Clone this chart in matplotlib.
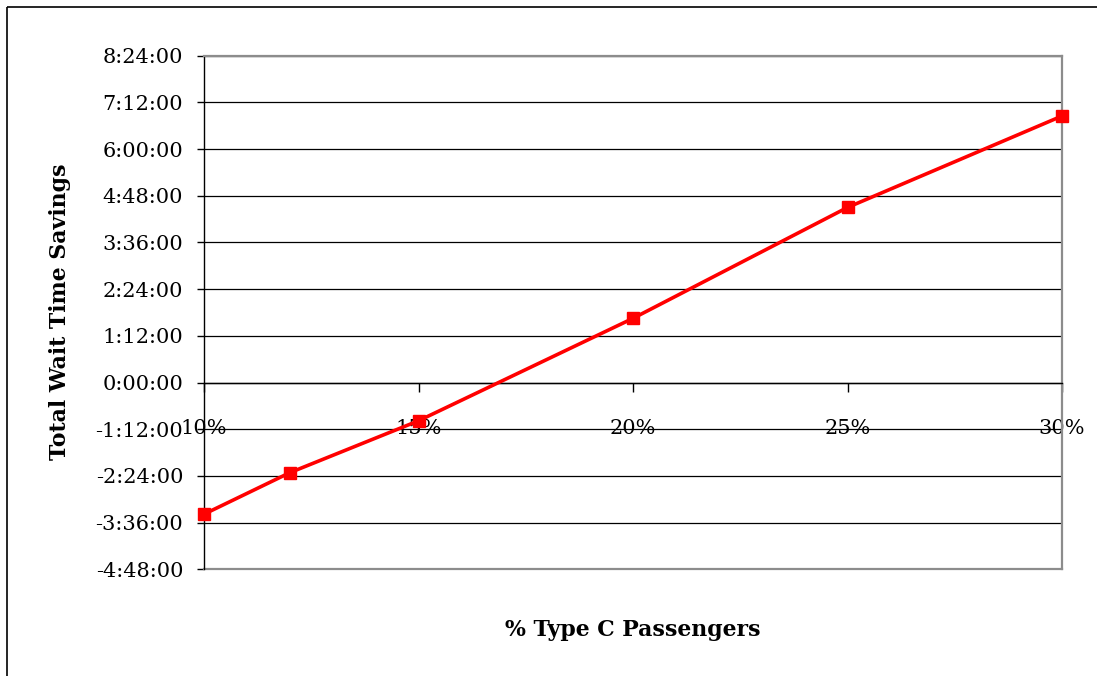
import matplotlib
matplotlib.use("Agg")
import matplotlib.pyplot as plt
from matplotlib.lines import Line2D
from matplotlib.ticker import FixedLocator, FuncFormatter

# Share of type C passengers (%) and total wait-time savings (minutes)
pct_type_c = [10, 12, 15, 20, 25, 30]
savings_min = [-203, -139, -59, 99, 270, 411]

x_ticks = [10, 15, 20, 25, 30]
y_ticks = [-288, -216, -144, -72, 0, 72, 144, 216, 288, 360, 432, 504]

FONT = "DejaVu Serif"
W, H = 1097, 676

fig = plt.figure(figsize=(W / 100, H / 100), dpi=100)
fig.patch.set_facecolor("white")

# Outer chart frame (left and top edges)
fig.add_artist(Line2D([6.5 / W, 6.5 / W], [0, 1 - 6.5 / H], color="black",
                      lw=1.2, solid_capstyle="butt"))
fig.add_artist(Line2D([6.5 / W, 1], [1 - 6.5 / H, 1 - 6.5 / H], color="black",
                      lw=1.2, solid_capstyle="butt"))

left, right = 204 / W, 1062 / W
top, bottom = 1 - 55.7 / H, 1 - 569.3 / H
ax = fig.add_axes([left, bottom, right - left, top - bottom])

ax.set_xlim(10, 30)
ax.set_ylim(-288, 504)

# Horizontal gridlines
for v in y_ticks:
    ax.axhline(v, color="black", lw=0.9, zorder=1)

ax.plot(pct_type_c, savings_min, color="#ff0000", lw=2.6, marker="s",
        markersize=9, markeredgecolor="#ff0000", markerfacecolor="#ff0000",
        zorder=3, clip_on=False)

# Spines: left black axis, x axis through zero, plot border gray
ax.spines["left"].set_color("black")
ax.spines["left"].set_linewidth(1.0)
ax.spines["bottom"].set_position(("data", 0))
ax.spines["bottom"].set_color("black")
ax.spines["bottom"].set_linewidth(1.0)
for s in ("top", "right"):
    ax.spines[s].set_color("#8c8c8c")
    ax.spines[s].set_linewidth(1.6)
# Gray bottom border of plot area
ax.add_line(Line2D([0, 1], [0, 0], transform=ax.transAxes, color="#8c8c8c",
                   lw=1.6, clip_on=False, zorder=2))

def fmt_time(v, pos=None):
    sign = "-" if v < 0 else ""
    m = int(round(abs(v)))
    return f"{sign}{m // 60}:{m % 60:02d}:00"

ax.yaxis.set_major_locator(FixedLocator(y_ticks))
ax.yaxis.set_major_formatter(FuncFormatter(fmt_time))
ax.xaxis.set_major_locator(FixedLocator(x_ticks))
ax.xaxis.set_major_formatter(FuncFormatter(lambda v, p: f"{int(v)}%"))

ax.tick_params(axis="y", direction="out", length=5, width=1, pad=10,
               labelsize=15, colors="black")
ax.tick_params(axis="x", direction="out", length=6.5, width=1, pad=20,
               labelsize=15, colors="black")
for lab in ax.get_xticklabels() + ax.get_yticklabels():
    lab.set_fontfamily(FONT)

fig.text(60 / W, 1 - 312 / H, "Total Wait Time Savings", rotation=90,
         ha="center", va="center", fontsize=15.8, fontweight="bold", family=FONT)
fig.text(633 / W, 1 - 630 / H, "% Type C Passengers", ha="center",
         va="center", fontsize=15.8, fontweight="bold", family=FONT)

fig.savefig("out.png", dpi=100, facecolor="white")
